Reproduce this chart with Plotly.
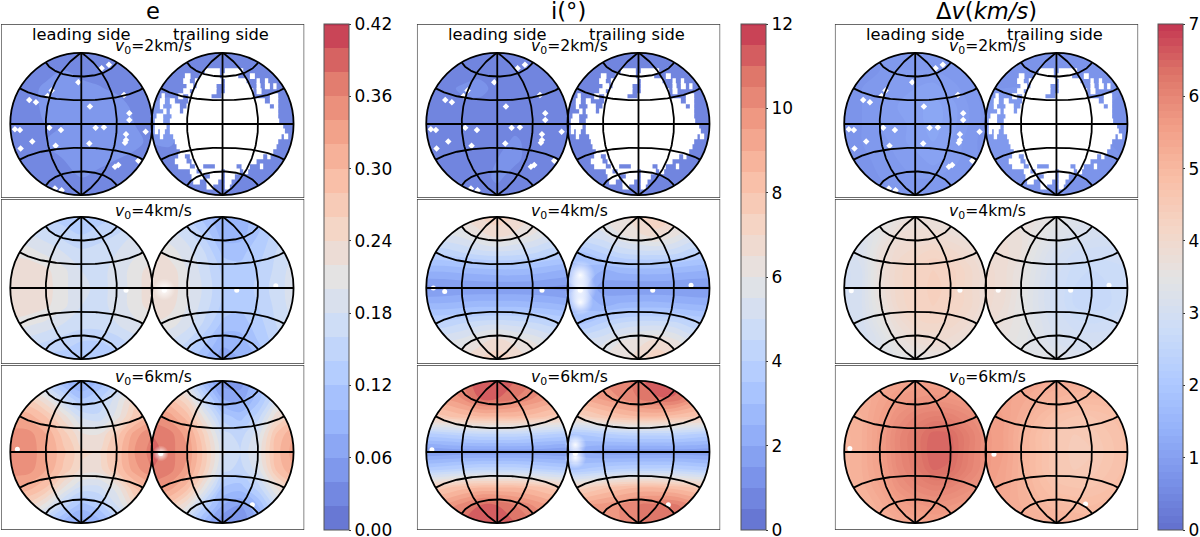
import numpy as np
import plotly.graph_objects as go

W, H = 1200, 537

# Node positions of every surface table, in disc radii; rows run top to bottom.
X_NODES = [-1, -0.75, -0.5, -0.25, 0, 0.25, 0.5, 0.75, 1]
Y_NODES = [1, 0.75, 0.5, 0.25, 0, -0.25, -0.5, -0.75, -1]

E2_LEAD = [
    [.03, .03, .03, .03, .03, .03, .03, .03, .03],
    [.03, .03, .035, .04, .035, .03, .03, .03, .03],
    [.03, .035, .043, .048, .045, .042, .035, .03, .03],
    [.03, .035, .043, .045, .045, .052, .05, .035, .03],
    [.03, .035, .04, .04, .045, .052, .055, .04, .03],
    [.03, .035, .04, .042, .042, .052, .05, .045, .035],
    [.03, .03, .035, .04, .042, .045, .04, .035, .03],
    [.03, .03, .03, .035, .04, .035, .03, .03, .03],
    [.03, .03, .03, .03, .035, .03, .03, .03, .03],
]
E2_TRAIL = [
    [.03, .03, .03, .03, .03, .03, .03, .03, .03],
    [.03, .03, .03, .03, .03, .03, .03, .03, .03],
    [.035, .035, .03, .03, .03, .03, .03, .035, .03],
    [.04, .045, .035, .03, .03, .03, .03, .035, .03],
    [.04, .045, .035, .03, .03, .03, .03, .035, .03],
    [.04, .042, .035, .03, .03, .03, .03, .03, .03],
    [.035, .035, .03, .03, .03, .03, .035, .035, .03],
    [.03, .03, .03, .03, .03, .03, .03, .03, .03],
    [.03, .03, .03, .03, .03, .03, .03, .03, .03],
]
E4_LEAD = [
    [.15, .15, .14, .13, .12, .13, .14, .15, .15],
    [.18, .18, .17, .15, .14, .15, .16, .18, .18],
    [.215, .21, .195, .18, .165, .17, .18, .195, .205],
    [.235, .235, .225, .205, .18, .175, .185, .21, .23],
    [.24, .24, .23, .205, .185, .175, .185, .21, .235],
    [.235, .235, .225, .205, .18, .175, .185, .21, .23],
    [.215, .205, .195, .18, .17, .17, .18, .195, .205],
    [.17, .17, .16, .15, .14, .14, .15, .17, .18],
    [.14, .14, .13, .13, .12, .12, .13, .14, .15],
]
E4_TRAIL = [
    [.17, .16, .14, .11, .085, .09, .11, .14, .15],
    [.20, .19, .17, .135, .09, .09, .12, .15, .17],
    [.23, .21, .19, .16, .115, .115, .13, .16, .18],
    [.24, .235, .20, .17, .135, .125, .14, .165, .19],
    [.24, .235, .205, .175, .14, .125, .145, .17, .19],
    [.24, .23, .20, .17, .135, .125, .14, .165, .19],
    [.22, .21, .19, .155, .115, .11, .13, .16, .18],
    [.19, .18, .16, .125, .085, .09, .12, .15, .17],
    [.16, .15, .13, .10, .07, .08, .10, .13, .15],
]
E6_LEAD = [
    [.20, .18, .14, .10, .07, .10, .14, .18, .20],
    [.27, .26, .22, .16, .12, .14, .19, .25, .27],
    [.32, .31, .28, .23, .175, .165, .21, .27, .31],
    [.35, .35, .32, .27, .225, .22, .27, .33, .36],
    [.355, .355, .325, .285, .245, .24, .285, .34, .37],
    [.35, .35, .32, .275, .235, .23, .28, .33, .36],
    [.32, .31, .28, .22, .175, .175, .21, .28, .31],
    [.26, .25, .21, .15, .11, .13, .18, .24, .27],
    [.20, .18, .13, .09, .07, .09, .13, .18, .20],
]
E6_TRAIL = [
    [.23, .21, .18, .10, .05, .05, .10, .17, .20],
    [.29, .28, .24, .15, .08, .07, .11, .18, .21],
    [.35, .33, .29, .21, .13, .11, .15, .23, .27],
    [.38, .37, .33, .255, .17, .15, .19, .28, .32],
    [.39, .37, .34, .27, .185, .16, .205, .29, .33],
    [.38, .37, .33, .26, .17, .15, .19, .28, .32],
    [.35, .33, .29, .21, .12, .11, .15, .22, .27],
    [.28, .27, .22, .14, .08, .06, .10, .17, .21],
    [.22, .20, .15, .09, .04, .04, .08, .14, .18],
]
I2_LEAD = [
    [.8, .8, .8, .8, .8, .8, .8, .8, .8],
    [.8, .8, .8, .9, .8, .8, .8, .8, .8],
    [.8, .9, 1.05, 1.1, .9, .9, .8, .8, .8],
    [.8, .8, .9, .9, .9, 1.0, .9, .8, .7],
    [.7, .7, .7, .7, .75, .9, .8, .7, .7],
    [.8, .8, .8, .9, .9, 1.05, .9, .8, .8],
    [.8, .8, .9, .9, 1.0, 1.05, .9, .8, .8],
    [.8, .8, .8, .9, 1.05, .9, .8, .8, .8],
    [.8, .8, .8, .8, .9, .8, .8, .8, .8],
]
I2_TRAIL = [
    [.7, .7, .7, .7, .7, .7, .7, .7, .7],
    [.8, .8, .8, .7, .7, .7, .7, .7, .7],
    [.8, .8, .8, .8, .8, .8, .8, .8, .7],
    [.9, .9, .8, .8, .8, .8, .8, .8, .8],
    [.8, .8, .8, .8, .8, .8, .8, .7, .7],
    [.9, .9, .8, .8, .8, .8, .8, .8, .8],
    [.8, .8, .8, .8, .8, .8, .8, .8, .8],
    [.7, .8, .8, .8, .8, .8, .8, .8, .8],
    [.7, .7, .8, .8, .8, .8, .7, .7, .7],
]
I4_LEAD = [
    [6.5, 6.5, 6.5, 7, 7.2, 7, 6.5, 6, 6],
    [5.5, 5.5, 5.7, 6.3, 6.8, 6.4, 6, 5.5, 5.5],
    [4.1, 4.2, 4.5, 4.8, 4.9, 4.8, 4.6, 4.2, 4.0],
    [2.6, 2.6, 2.7, 2.8, 2.9, 2.9, 2.8, 2.6, 2.4],
    [1.3, 1.4, 1.5, 1.5, 1.5, 1.5, 1.5, 1.4, 1.3],
    [2.7, 2.7, 2.8, 2.9, 2.9, 2.9, 2.8, 2.7, 2.5],
    [4.2, 4.2, 4.5, 4.8, 4.9, 4.8, 4.6, 4.3, 4.1],
    [5.5, 5.5, 5.7, 6.3, 6.8, 6.3, 6, 5.5, 5.3],
    [6.5, 6.5, 6.5, 7, 7.2, 7, 6.4, 6, 6],
]
I4_TRAIL = [
    [5.8, 5.8, 6, 6.2, 7, 7.4, 7, 6.4, 6],
    [5.2, 5.2, 5.4, 6, 6.4, 6.8, 6.2, 5.5, 5.3],
    [3.3, 3.5, 4.1, 4.6, 4.8, 4.8, 4.7, 4.2, 4.0],
    [2.7, 2.8, 2.5, 2.7, 2.8, 2.8, 2.7, 2.6, 2.5],
    [2.4, 2.6, 1.7, 1.5, 1.5, 1.5, 1.5, 1.4, 1.4],
    [2.7, 2.8, 2.5, 2.7, 2.8, 2.8, 2.7, 2.6, 2.5],
    [3.3, 3.5, 4.1, 4.6, 4.8, 4.8, 4.7, 4.2, 4.0],
    [5.2, 5.2, 5.4, 6, 6.3, 6.7, 6.2, 5.5, 5.3],
    [5.8, 5.8, 6, 6.2, 6.8, 7.4, 7, 6.4, 6],
]
I6_LEAD = [
    [10, 10, 10.5, 11.5, 11.2, 11, 10.5, 10, 10],
    [9.4, 9.5, 10, 11, 11, 10.5, 10, 9.5, 9.4],
    [7.7, 7.9, 8.3, 8.5, 8.5, 8.5, 8.3, 7.9, 7.7],
    [3.8, 4, 4.2, 4.4, 4.4, 4.4, 4.2, 4, 3.8],
    [1.4, 1.5, 1.6, 1.6, 1.6, 1.6, 1.6, 1.5, 1.4],
    [3.8, 4, 4.2, 4.4, 4.4, 4.4, 4.2, 4, 3.8],
    [7.7, 7.9, 8.3, 8.5, 8.5, 8.5, 8.3, 7.9, 7.7],
    [9.4, 9.6, 10.2, 11, 11, 10.5, 10, 9.5, 9.4],
    [10.5, 10.5, 11, 11.5, 11.5, 11, 10.5, 10, 10],
]
I6_TRAIL = [
    [9.5, 9.5, 10, 10.2, 10.8, 11.5, 11.5, 10.5, 10],
    [9, 9.2, 9.6, 10, 10.5, 10.9, 10.9, 10, 9.4],
    [7.2, 7.4, 7.9, 8.3, 8.5, 8.5, 8.3, 8, 7.7],
    [3.4, 3.6, 3.9, 4.1, 4.2, 4.2, 4.2, 4, 3.8],
    [2.4, 2.0, 1.7, 1.6, 1.6, 1.6, 1.6, 1.6, 1.5],
    [3.4, 3.6, 3.9, 4.1, 4.2, 4.2, 4.2, 4, 3.8],
    [7.2, 7.4, 7.9, 8.3, 8.5, 8.5, 8.3, 8, 7.7],
    [9.2, 9.4, 9.7, 10, 10.5, 10.7, 10.7, 10, 9.4],
    [9.5, 9.5, 9.8, 10, 10.5, 11, 11, 10.5, 10],
]
DV2_LEAD = [
    [.75, .75, .8, .85, .85, .85, .8, .75, .75],
    [.75, .75, .8, .9, .9, .9, .85, .8, .75],
    [.75, .8, .85, .95, 1.0, 1.05, .95, .85, .75],
    [.75, .8, .9, 1.0, 1.05, 1.15, 1.05, .9, .75],
    [.7, .8, .9, .95, 1.05, 1.15, 1.05, .9, .75],
    [.7, .8, .85, .95, 1.05, 1.1, 1.0, .85, .75],
    [.7, .75, .85, .9, .95, 1.05, .95, .85, .75],
    [.7, .75, .8, .85, .9, .9, .85, .8, .75],
    [.7, .7, .75, .8, .85, .85, .8, .75, .7],
]
DV2_TRAIL = [
    [.75, .75, .75, .75, .75, .75, .75, .75, .75],
    [.75, .75, .75, .75, .75, .75, .75, .75, .75],
    [.8, .8, .8, .75, .75, .75, .75, .75, .7],
    [.85, .85, .8, .75, .75, .75, .75, .7, .7],
    [.85, .85, .8, .75, .75, .75, .75, .7, .7],
    [.85, .85, .8, .75, .75, .75, .75, .7, .7],
    [.8, .8, .8, .75, .75, .75, .75, .75, .7],
    [.75, .75, .75, .75, .75, .75, .75, .75, .75],
    [.75, .75, .75, .75, .75, .75, .75, .75, .75],
]
DV4_LEAD = [
    [3.3, 3.3, 3.5, 3.6, 3.7, 3.7, 3.6, 3.5, 3.5],
    [3.2, 3.2, 3.5, 3.8, 3.85, 3.85, 3.8, 3.7, 3.6],
    [3.05, 3.15, 3.7, 3.95, 4.05, 4.15, 4.05, 3.9, 3.7],
    [2.95, 3.1, 3.7, 4.05, 4.2, 4.3, 4.25, 4.05, 3.8],
    [2.95, 3.1, 3.7, 4.05, 4.2, 4.35, 4.25, 4.05, 3.8],
    [2.95, 3.1, 3.6, 4.0, 4.2, 4.3, 4.2, 4.05, 3.8],
    [2.95, 3.05, 3.45, 3.8, 4.05, 4.1, 4.05, 3.9, 3.7],
    [3.0, 3.0, 3.25, 3.6, 3.8, 3.9, 3.85, 3.7, 3.6],
    [3.15, 3.15, 3.3, 3.4, 3.5, 3.55, 3.5, 3.5, 3.5],
]
DV4_TRAIL = [
    [3.7, 3.7, 3.7, 3.6, 3.5, 3.3, 3.2, 3.2, 3.2],
    [3.8, 3.8, 3.7, 3.5, 3.3, 3.15, 3.05, 3.0, 3.0],
    [3.9, 3.85, 3.7, 3.35, 3.05, 2.9, 2.85, 2.85, 2.9],
    [3.95, 3.85, 3.6, 3.25, 2.95, 2.75, 2.7, 2.75, 2.8],
    [3.95, 3.85, 3.55, 3.2, 2.9, 2.7, 2.65, 2.7, 2.85],
    [3.95, 3.8, 3.5, 3.2, 2.9, 2.7, 2.65, 2.7, 2.85],
    [3.85, 3.7, 3.5, 3.25, 3.0, 2.85, 2.8, 2.85, 2.95],
    [3.6, 3.6, 3.45, 3.3, 3.1, 3.0, 3.0, 3.0, 3.05],
    [3.4, 3.4, 3.4, 3.35, 3.3, 3.2, 3.15, 3.15, 3.15],
]
DV6_LEAD = [
    [5.3, 5.3, 5.3, 5.4, 5.5, 5.5, 5.5, 5.4, 5.4],
    [5.2, 5.2, 5.4, 5.6, 5.7, 5.75, 5.7, 5.6, 5.5],
    [5.1, 5.2, 5.5, 5.8, 6.0, 6.1, 6.05, 5.9, 5.7],
    [5.05, 5.2, 5.55, 5.95, 6.2, 6.45, 6.4, 6.1, 5.8],
    [5.05, 5.2, 5.55, 5.95, 6.2, 6.5, 6.45, 6.1, 5.8],
    [5.05, 5.2, 5.5, 5.9, 6.15, 6.4, 6.35, 6.05, 5.8],
    [5.05, 5.15, 5.4, 5.75, 5.95, 6.05, 6.0, 5.85, 5.7],
    [5.05, 5.05, 5.25, 5.5, 5.65, 5.75, 5.7, 5.6, 5.5],
    [5.1, 5.1, 5.15, 5.25, 5.4, 5.45, 5.45, 5.35, 5.3],
]
DV6_TRAIL = [
    [5.4, 5.4, 5.4, 5.35, 5.3, 5.3, 5.2, 5.2, 5.15],
    [5.5, 5.45, 5.35, 5.2, 5.1, 5.0, 5.0, 5.0, 5.0],
    [5.6, 5.5, 5.25, 5.0, 4.8, 4.7, 4.7, 4.8, 4.9],
    [5.65, 5.5, 5.15, 4.85, 4.6, 4.5, 4.55, 4.7, 4.85],
    [5.65, 5.5, 5.15, 4.85, 4.6, 4.45, 4.5, 4.65, 4.85],
    [5.65, 5.45, 5.15, 4.85, 4.6, 4.5, 4.55, 4.7, 4.85],
    [5.55, 5.4, 5.15, 4.95, 4.75, 4.7, 4.7, 4.8, 4.9],
    [5.4, 5.35, 5.2, 5.05, 4.95, 4.9, 4.9, 5.0, 5.0],
    [5.3, 5.3, 5.25, 5.2, 5.15, 5.15, 5.1, 5.1, 5.1],
]

COLUMN_TITLES = ["e", "i(°)", "Δ<i>v</i>(<i>km/s</i>)"]
ROW_LABELS = ["2", "4", "6"]
SURFACES = [
    [(E2_LEAD, E2_TRAIL), (E4_LEAD, E4_TRAIL), (E6_LEAD, E6_TRAIL)],
    [(I2_LEAD, I2_TRAIL), (I4_LEAD, I4_TRAIL), (I6_LEAD, I6_TRAIL)],
    [(DV2_LEAD, DV2_TRAIL), (DV4_LEAD, DV4_TRAIL), (DV6_LEAD, DV6_TRAIL)],
]
SCALE_MAX = [0.42, 12, 7]
LEVEL_STEP = [0.02, 0.5, 0.1]
TICK_STEP = [0.06, 2, 1]
TICK_FORMAT = [".2f", "d", "d"]

# Uncovered bins on the 2 km/s row: same bins in all three quantities.
# Stated in sheet units: the disc centre is at (218, 283) and its radius is 213.
SHEET_CENTRE = (218, 283)
SHEET_RADIUS = 213
TRAIL_HOLE_ROWS = [
    (125, [(165, 210), (225, 280)]),
    (140, [(105, 122), (150, 210), (218, 265), (300, 315)]),
    (155, [(100, 120), (135, 215), (225, 290), (320, 330), (345, 355)]),
    (170, [(110, 130), (140, 200), (225, 300), (320, 332), (345, 360), (370, 380)]),
    (185, [(100, 120), (130, 200), (225, 310), (320, 335)]),
    (200, [(35, 45), (85, 100), (115, 185), (215, 310), (360, 385)]),
    (215, [(30, 45), (60, 75), (115, 345), (360, 385)]),
    (230, [(30, 40), (65, 90), (110, 360), (372, 385)]),
    (245, [(40, 50), (60, 90), (100, 385)]),
    (260, [(20, 40), (65, 385)]),
    (275, [(15, 40), (60, 388)]),
    (290, [(15, 50), (60, 400)]),
    (305, [(15, 25), (30, 45), (60, 405)]),
    (320, [(30, 40), (70, 395), (402, 415)]),
    (335, [(75, 385)]),
    (350, [(80, 380)]),
    (365, [(90, 370)]),
    (380, [(85, 105), (120, 340), (352, 362)]),
    (395, [(75, 110), (125, 320)]),
    (410, [(85, 120), (135, 160), (195, 260), (275, 300), (330, 340)]),
    (425, [(120, 140), (155, 215), (225, 270), (280, 295)]),
    (440, [(125, 160), (180, 215), (225, 255)]),
    (455, [(130, 150), (170, 205), (225, 245)]),
    (470, [(170, 190), (225, 240)]),
]
# Isolated empty bins on the leading hemisphere, same sheet units about (244, 372).
LEAD_HOLE_X = [327, 305, 235, 155, 88, 108, 143, 372, 270, 388, 388, 148, 183, 287, 312,
               378, 378, 437, 97, 62, 268, 167, 345, 415, 355, 185, 45, 60, 165, 375]
LEAD_HOLE_Y = [195, 205, 247, 272, 300, 307, 288, 285, 320, 340, 360, 383, 390, 383, 382,
               403, 420, 395, 424, 445, 430, 437, 500, 482, 495, 570, 388, 390, 565, 428]

# Stray empty bins on the two faster rows, per panel, as (x, y) in disc radii.
SPOTS_LEAD = {
    (0, 1): [(.63, -.03)],
    (1, 1): [(.63, -.03), (-.74, -.05), (-.9, .0)],
    (2, 1): [(-.9, -.04), (.63, -.03)],
    (0, 2): [(-.9, .04)],
    (1, 2): [(-.92, .03)],
    (2, 2): [(-.92, .05)],
}
SPOTS_TRAIL = {
    (0, 1): [(-.82, -.03), (.2, -.03), (.75, .03)],
    (1, 1): [(-.82, -.03), (.2, -.03), (.74, .04)],
    (2, 1): [(-.82, -.03), (.2, -.03), (.74, .04)],
    (0, 2): [(-.87, -.02), (.42, -.74)],
    (1, 2): [(-.89, -.02), (.42, -.74)],
    (2, 2): [(-.88, -.03), (.41, -.73)],
}
# Bright halos around the apex spot on the trailing hemisphere: x, y, diameter in px.
HALOS = {
    (0, 1): [(-.82, -.02, 22)],
    (1, 1): [(-.82, .18, 30), (-.82, -.02, 32), (-.82, -.2, 26)],
    (0, 2): [(-.87, -.02, 16)],
    (1, 2): [(-.89, .1, 22), (-.89, -.08, 22)],
}

# Pixel layout of the figure.
PANEL_LEFT = [1, 418, 837]
PANEL_WIDTH = 304
ROW_SPANS = [(24, 198), (199, 364), (365, 530)]
ROW_CENTRE = [124, 288, 452]
DISC_R_PX = 71.2
LEFT_CENTRE_OFFSET = 80.5
DISC_SEPARATION = 141.6 / DISC_R_PX
CBAR_LEFT = [325, 743, 1161]
CBAR_WIDTH = 25
FONT = "DejaVu Sans"

# Coolwarm at 80 % opacity on white.
COOLWARM = ["#3b4cc0", "#5977e3", "#7b9ff9", "#9ebeff", "#c0d4f5", "#dddcdc",
            "#f2cbb7", "#f7ac8e", "#ee8468", "#d65244", "#b40426"]


def soften(hex_colour, alpha=0.8):
    rgb = [int(hex_colour[i:i + 2], 16) for i in (1, 3, 5)]
    return "rgb({},{},{})".format(*[round(c * alpha + 255 * (1 - alpha)) for c in rgb])


COLORSCALE = [[i / 10, soften(c)] for i, c in enumerate(COOLWARM)]


def px_x(p):
    return p / W


def px_y(p):
    return 1 - p / H


def graticule(offset):
    """Azimuthal-equidistant parallels and meridians, spaced 30 and 45 degrees."""
    xs, ys = [], []
    def project(lon, lat):
        c = np.arccos(np.clip(np.cos(lat) * np.cos(lon), -1, 1))
        k = np.where(c > 1e-9, c / np.where(np.sin(c) == 0, 1, np.sin(c)), 1.0)
        return k * np.cos(lat) * np.sin(lon) / (np.pi / 2), k * np.sin(lat) / (np.pi / 2)
    t = np.linspace(-np.pi / 2, np.pi / 2, 121)
    for lat_deg in (-60, -30, 0, 30, 60):
        x, y = project(t, np.full_like(t, np.radians(lat_deg)))
        xs += list(x + offset) + [None]
        ys += list(y) + [None]
    for lon_deg in (-45, 0, 45):
        x, y = project(np.full_like(t, np.radians(lon_deg)), t)
        xs += list(x + offset) + [None]
        ys += list(y) + [None]
    return xs, ys


def circle_path(cx):
    a = np.linspace(0, 2 * np.pi, 181)[:-1]
    pts = [f"{cx + np.cos(v):.4f},{np.sin(v):.4f}" for v in a]
    return "M" + " L".join(pts) + " Z"


fig = go.Figure()
shapes, annotations, layout_axes = [], [], {}

for col in range(3):
    left = PANEL_LEFT[col]
    for row in range(3):
        idx = col * 3 + row + 1
        suffix = "" if idx == 1 else str(idx)
        top, bottom = ROW_SPANS[row]
        cy = ROW_CENTRE[row]
        xr = [-LEFT_CENTRE_OFFSET / DISC_R_PX, (PANEL_WIDTH - LEFT_CENTRE_OFFSET) / DISC_R_PX]
        yr = [(cy - bottom) / DISC_R_PX, (cy - top) / DISC_R_PX]
        layout_axes[f"xaxis{suffix}"] = dict(
            domain=[px_x(left), px_x(left + PANEL_WIDTH)], range=xr, visible=False,
            anchor=f"y{suffix}", fixedrange=True)
        layout_axes[f"yaxis{suffix}"] = dict(
            domain=[px_y(bottom), px_y(top)], range=yr, visible=False,
            anchor=f"x{suffix}", fixedrange=True)
        xa, ya = f"x{suffix}", f"y{suffix}"

        for side, offset in enumerate((0.0, DISC_SEPARATION)):
            show = side == 0 and row == 0
            trace = go.Contour(
                x=[v + offset for v in X_NODES], y=Y_NODES[::-1],
                z=SURFACES[col][row][side][::-1],
                xaxis=xa, yaxis=ya, colorscale=COLORSCALE,
                zmin=0, zmax=SCALE_MAX[col], autocontour=False,
                contours=dict(start=0, end=SCALE_MAX[col], size=LEVEL_STEP[col],
                              coloring="fill", showlines=False),
                line=dict(width=0), showscale=show, hoverinfo="skip",
            )
            if show:
                trace.colorbar = dict(
                    x=px_x(CBAR_LEFT[col]), xanchor="left", xpad=0,
                    y=px_y(530), yanchor="bottom", ypad=0,
                    len=506, lenmode="pixels", thickness=CBAR_WIDTH, thicknessmode="pixels",
                    outlinecolor="#555", outlinewidth=1, borderwidth=0,
                    ticks="outside", ticklen=2, tickwidth=1, tickcolor="#333",
                    tick0=0, dtick=TICK_STEP[col], tickformat=TICK_FORMAT[col],
                    ticklabeloverflow="allow",
                    tickfont=dict(family=FONT, size=17, color="black"),
                )
            fig.add_trace(trace)

        if row == 0:
            hx, hy = [], []
            for y, spans in TRAIL_HOLE_ROWS:
                for a, b in spans:
                    hx += [(a - SHEET_CENTRE[0]) / SHEET_RADIUS + DISC_SEPARATION,
                           (b - SHEET_CENTRE[0]) / SHEET_RADIUS + DISC_SEPARATION, None]
                    hy += [(SHEET_CENTRE[1] - y) / SHEET_RADIUS] * 2 + [None]
            fig.add_trace(go.Scatter(x=hx, y=hy, mode="lines", xaxis=xa, yaxis=ya,
                                     line=dict(color="white", width=5.8),
                                     hoverinfo="skip", showlegend=False))
            fig.add_trace(go.Scatter(
                x=[(v - 244) / SHEET_RADIUS for v in LEAD_HOLE_X],
                y=[(372 - v) / SHEET_RADIUS for v in LEAD_HOLE_Y],
                mode="markers", xaxis=xa, yaxis=ya,
                marker=dict(color="white", size=5, symbol="diamond"),
                hoverinfo="skip", showlegend=False))
        else:
            for hx_, hy_, size in HALOS.get((col, row), []):
                fig.add_trace(go.Scatter(
                    x=[hx_ + DISC_SEPARATION], y=[hy_], mode="markers", xaxis=xa, yaxis=ya,
                    marker=dict(size=size, color="rgba(255,255,255,0)",
                                gradient=dict(type="radial", color="rgba(255,255,255,0.95)"),
                                line=dict(width=0)),
                    hoverinfo="skip", showlegend=False))
            lead = SPOTS_LEAD.get((col, row), [])
            trail = SPOTS_TRAIL.get((col, row), [])
            fig.add_trace(go.Scatter(
                x=[p[0] for p in lead] + [p[0] + DISC_SEPARATION for p in trail],
                y=[p[1] for p in lead] + [p[1] for p in trail],
                mode="markers", xaxis=xa, yaxis=ya,
                marker=dict(color="white", size=5, line=dict(width=0)),
                hoverinfo="skip", showlegend=False))

        # Coordinate grid of both hemispheres.
        for offset in (0.0, DISC_SEPARATION):
            gx, gy = graticule(offset)
            fig.add_trace(go.Scatter(x=gx, y=gy, mode="lines", xaxis=xa, yaxis=ya,
                                     line=dict(color="black", width=1.8),
                                     hoverinfo="skip", showlegend=False))

        # White cover outside the discs, then their outlines and the panel frame.
        rect = f"M{xr[0]},{yr[0]} L{xr[1]},{yr[0]} L{xr[1]},{yr[1]} L{xr[0]},{yr[1]} Z "
        shapes.append(dict(type="path", xref=xa, yref=ya, layer="above",
                           path=rect + circle_path(0.0) + " " + circle_path(DISC_SEPARATION),
                           fillcolor="white", fillrule="evenodd", line=dict(width=0)))
        for offset in (0.0, DISC_SEPARATION):
            shapes.append(dict(type="circle", xref=xa, yref=ya, layer="above",
                               x0=offset - 1, x1=offset + 1, y0=-1, y1=1,
                               line=dict(color="black", width=1.8)))
        shapes.append(dict(type="rect", xref=xa, yref=ya, layer="above",
                           x0=xr[0], x1=xr[1], y0=yr[0], y1=yr[1],
                           line=dict(color="#3a3a3a", width=1.3)))

        annotations.append(dict(
            text=f"<i>v</i><sub>0</sub>={ROW_LABELS[row]}km/s", xref="paper", yref="paper",
            x=px_x(left + 153), y=px_y(top + (23 if row == 0 else 13)),
            showarrow=False, xanchor="center", yanchor="middle",
            font=dict(family=FONT, size=15.6, color="black")))

    for text, dx in (("leading side", 81), ("trailing side", 221)):
        annotations.append(dict(text=text, xref="paper", yref="paper",
                                x=px_x(left + dx), y=px_y(34), showarrow=False,
                                xanchor="center", yanchor="middle",
                                font=dict(family=FONT, size=16.3, color="black")))
    annotations.append(dict(text=COLUMN_TITLES[col], xref="paper", yref="paper",
                            x=px_x(left + 152), y=px_y(11), showarrow=False,
                            xanchor="center", yanchor="middle",
                            font=dict(family=FONT, size=22.6, color="black")))

fig.update_layout(
    width=W, height=H, margin=dict(l=0, r=0, t=0, b=0, pad=0),
    paper_bgcolor="white", plot_bgcolor="white", showlegend=False,
    shapes=shapes, annotations=annotations, **layout_axes,
)
fig.write_html("out.html")
